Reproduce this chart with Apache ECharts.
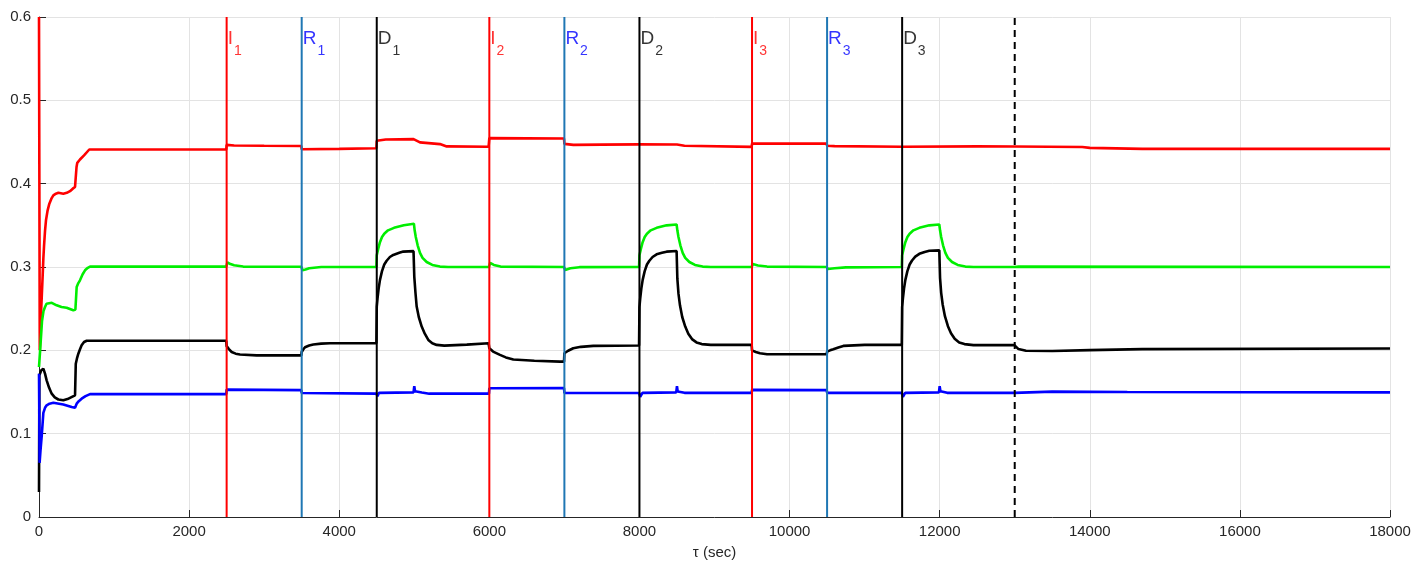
<!DOCTYPE html>
<html>
<head>
<meta charset="utf-8">
<script src="https://cdn.jsdelivr.net/npm/echarts@6/dist/echarts.min.js"></script>
<style>
html,body{margin:0;padding:0;background:#fff;}
#chart{width:1428px;height:563px;}
</style>
</head>
<body>
<div id="chart"></div>
<script>
// ---- data ----
const xTicks = [0,2000,4000,6000,8000,10000,12000,14000,16000,18000];
const yTicks = [0,0.1,0.2,0.3,0.4,0.5,0.6];

const redSeries = [
  [0,0.6],[10,0.2],[25,0.24],[37,0.265],[49,0.29],[58,0.31],[67,0.325],[80,0.343],[93,0.356],[115,0.368],[138,0.376],[165,0.382],[191,0.386],[225,0.388],[258,0.389],[324,0.388],[370,0.389],[413,0.391],[450,0.394],[480,0.396],[495,0.397],
  [500,0.42],[510,0.425],[546,0.429],[600,0.434],[670,0.441],[2495,0.441],
  [2500,0.4465],[2600,0.4458],[3000,0.4455],[3495,0.4452],
  [3500,0.4413],[4000,0.4418],[4495,0.4425],
  [4500,0.4514],[4620,0.453],[4990,0.4534],[5076,0.4495],[5342,0.4475],[5432,0.4447],[5990,0.4443],
  [6000,0.4546],[6995,0.4542],
  [7000,0.4477],[7120,0.4465],[7500,0.4468],[7995,0.4472],
  [8000,0.4478],[8500,0.447],[8600,0.4455],[9495,0.4441],
  [9500,0.448],[10495,0.448],
  [10500,0.4455],[10600,0.445],[11495,0.4443],
  [11500,0.4448],[12500,0.4448],[13000,0.4446],[13900,0.444],[14000,0.443],[14700,0.4418],[18000,0.4418]
];

const greenSeries = [
  [0,0.18],[15,0.2],[40,0.235],[60,0.247],[80,0.252],[100,0.256],[124,0.258],[170,0.257],[235,0.254],[300,0.252],[368,0.251],[457,0.248],[485,0.249],
  [502,0.276],[520,0.280],[546,0.284],[580,0.291],[613,0.296],[650,0.299],[680,0.3005],[2495,0.3005],
  [2510,0.3055],[2550,0.3035],[2600,0.302],[2720,0.3005],[3495,0.3003],
  [3510,0.296],[3550,0.297],[3600,0.2985],[3760,0.3],[4495,0.3],
  [4500,0.314],[4520,0.322],[4540,0.329],[4570,0.336],[4600,0.340],[4650,0.344],[4730,0.347],[4860,0.350],[4995,0.352],
  [5005,0.344],[5020,0.336],[5045,0.326],[5076,0.317],[5110,0.311],[5165,0.306],[5240,0.3025],[5342,0.3005],[5450,0.3],[5995,0.3],
  [6010,0.305],[6060,0.3025],[6150,0.3005],[6995,0.3],
  [7010,0.2965],[7080,0.2985],[7200,0.2998],[7995,0.3],
  [8000,0.314],[8020,0.322],[8040,0.329],[8070,0.336],[8100,0.340],[8150,0.344],[8229,0.347],[8362,0.350],[8495,0.351],
  [8505,0.344],[8520,0.336],[8545,0.326],[8576,0.317],[8610,0.311],[8665,0.306],[8740,0.3025],[8842,0.3005],[8950,0.3],[9495,0.3],
  [9510,0.3035],[9580,0.3018],[9700,0.3005],[10495,0.3],
  [10510,0.2975],[10600,0.2985],[10750,0.2995],[11495,0.3],
  [11500,0.314],[11520,0.322],[11540,0.329],[11570,0.336],[11600,0.340],[11650,0.344],[11729,0.347],[11862,0.350],[11995,0.351],
  [12005,0.344],[12020,0.336],[12045,0.326],[12076,0.317],[12110,0.311],[12165,0.306],[12240,0.3025],[12342,0.3005],[12450,0.3],[13000,0.3],
  [13050,0.3005],[18000,0.3]
];

const blackSeries = [
  [0,0.03],[5,0.17],[30,0.176],[58,0.178],[80,0.172],[102,0.164],[135,0.155],[169,0.148],[210,0.1435],[258,0.141],[324,0.140],[380,0.1415],[413,0.143],[480,0.146],
  [490,0.184],[505,0.19],[524,0.196],[545,0.201],[568,0.206],[600,0.21],[635,0.2115],[800,0.2115],[2495,0.2115],
  [2500,0.205],[2530,0.2015],[2567,0.198],[2620,0.196],[2678,0.195],[2900,0.194],[3495,0.194],
  [3500,0.198],[3520,0.201],[3544,0.2037],[3600,0.2058],[3655,0.207],[3760,0.208],[3877,0.2085],[4495,0.2085],
  [4500,0.2525],[4510,0.262],[4525,0.274],[4543,0.2845],[4570,0.295],[4600,0.303],[4632,0.3075],[4675,0.312],[4720,0.3145],[4800,0.317],[4854,0.3185],[4990,0.319],
  [5000,0.2885],[5015,0.270],[5032,0.2525],[5060,0.240],[5099,0.2285],[5140,0.220],[5187,0.2125],[5240,0.2085],[5298,0.2065],[5400,0.2057],[5700,0.2068],[5990,0.2085],
  [6000,0.2025],[6050,0.1985],[6142,0.1945],[6220,0.1915],[6320,0.189],[6600,0.1875],[6941,0.1865],[6995,0.1865],
  [7000,0.1965],[7050,0.1995],[7118,0.2025],[7220,0.2042],[7385,0.2053],[7995,0.2058],
  [8000,0.252],[8010,0.262],[8025,0.274],[8043,0.2845],[8070,0.295],[8100,0.303],[8132,0.3075],[8175,0.312],[8229,0.3152],[8300,0.317],[8362,0.3184],[8495,0.3192],
  [8505,0.286],[8520,0.268],[8540,0.254],[8570,0.240],[8610,0.2285],[8651,0.220],[8700,0.2135],[8760,0.2095],[8830,0.2075],[8950,0.2065],[9495,0.2065],
  [9500,0.2],[9550,0.198],[9606,0.1965],[9700,0.1953],[10495,0.1953],
  [10500,0.1985],[10540,0.2],[10583,0.2013],[10650,0.2035],[10716,0.2053],[11000,0.2065],[11495,0.2065],
  [11500,0.252],[11510,0.262],[11525,0.274],[11543,0.2845],[11570,0.295],[11600,0.303],[11632,0.3078],[11675,0.3125],[11729,0.3158],[11800,0.318],[11862,0.3195],[11995,0.32],
  [12005,0.287],[12020,0.269],[12040,0.255],[12070,0.241],[12110,0.229],[12151,0.2205],[12200,0.214],[12260,0.2095],[12330,0.2075],[12450,0.2063],[12995,0.2063],
  [13050,0.2015],[13150,0.1995],[13500,0.1992],[14000,0.2002],[14700,0.2015],[18000,0.2022]
];

const blueSeries = [
  [0,0.172],[8,0.065],[20,0.08],[36,0.097],[58,0.125],[80,0.131],[102,0.134],[140,0.136],[191,0.137],[324,0.135],[435,0.132],[480,0.131],
  [502,0.136],[530,0.139],[568,0.142],[620,0.145],[680,0.1475],[2495,0.1475],
  [2500,0.1528],[3495,0.1522],
  [3500,0.1488],[4495,0.148],
  [4510,0.145],[4530,0.149],[4990,0.1495],[5000,0.157],[5010,0.151],[5100,0.1495],[5200,0.148],[5995,0.148],
  [6000,0.1545],[6995,0.1548],
  [7000,0.149],[7100,0.1488],[7995,0.1488],
  [8010,0.144],[8040,0.149],[8490,0.1495],[8500,0.157],[8510,0.1505],[8600,0.149],[9495,0.149],
  [9500,0.1525],[10495,0.1522],
  [10500,0.149],[11495,0.149],
  [11510,0.144],[11540,0.149],[11990,0.1495],[12000,0.157],[12010,0.151],[12100,0.149],[12995,0.149],
  [13000,0.1508],[13500,0.1505],[14500,0.15],[18000,0.1495]
];

const eventTimes   = [2500,3500,4500,6000,7000,8000,9500,10500,11500];
const eventLetters = ['I','R','D','I','R','D','I','R','D'];
const eventSubs    = ['1','1','1','2','2','2','3','3','3'];
const dashedTime   = 13000;
const yMax = 0.6;
const labelY = 0.568;

// ---- styles ----
const lineColor = {I:'#ff0000', R:'#1f77b4', D:'#000000'};
const textColor = {I:'#ff0000', R:'#0000ff', D:'#000000'};
const FONT = "'Liberation Sans', Arial, Helvetica, sans-serif";

const series = [];
function curve(name, data, color){
  series.push({name, type:'line', data, showSymbol:false, symbol:'none',
    lineStyle:{color, width:2.6}, z:3, animation:false});
}
curve('red', redSeries, '#ff0000');
curve('green', greenSeries, '#00ee00');
curve('black', blackSeries, '#000000');
curve('blue', blueSeries, '#0000ff');

eventTimes.forEach((t,i)=>{
  const L = eventLetters[i];
  series.push({type:'line', data:[[t,0],[t,yMax]], showSymbol:false, symbol:'none',
    lineStyle:{color:lineColor[L], width:2}, z:4, animation:false, silent:true});
  series.push({type:'scatter', data:[[t,labelY]], symbolSize:0, z:5, animation:false, silent:true,
    label:{show:true, position:'right', distance:1,
      formatter:'{m|'+L+'}{s|'+eventSubs[i]+'}',
      rich:{
        m:{fontFamily:FONT, fontSize:19, color:textColor[L], verticalAlign:'top', lineHeight:28},
        s:{fontFamily:FONT, fontSize:14, color:textColor[L], verticalAlign:'bottom', lineHeight:28, padding:[8,0,0,1]}
      }}});
});
series.push({type:'line', data:[[dashedTime,0],[dashedTime,yMax]], showSymbol:false, symbol:'none',
  lineStyle:{color:'#000', width:2, type:[7,5]}, z:4, animation:false, silent:true});

const chart = echarts.init(document.getElementById('chart'));
chart.setOption({
  animation:false,
  backgroundColor:'#ffffff',
  grid:{left:39, right:38, top:17, bottom:46, containLabel:false, outerBoundsMode:'none'},
  xAxis:{type:'value', min:xTicks[0], max:xTicks[xTicks.length-1], interval:xTicks[1]-xTicks[0],
    name:'τ (sec)', nameLocation:'middle', nameGap:28,
    nameTextStyle:{fontFamily:FONT, fontSize:15, color:'#262626'},
    axisLine:{show:true, onZero:false, lineStyle:{color:'#262626', width:1}},
    axisTick:{show:true, inside:true, length:7, lineStyle:{color:'#262626'}},
    axisLabel:{fontFamily:FONT, fontSize:15, color:'#262626', margin:7, formatter:v=>String(v)},
    splitLine:{show:true, lineStyle:{color:'#e3e3e3', width:1}}},
  yAxis:{type:'value', min:yTicks[0], max:yTicks[yTicks.length-1], interval:0.1,
    axisLine:{show:true, onZero:false, lineStyle:{color:'#262626', width:1}},
    axisTick:{show:true, inside:true, length:7, lineStyle:{color:'#262626'}},
    axisLabel:{fontFamily:FONT, fontSize:15, color:'#262626', margin:8,
      formatter:v=> v===0?'0':v.toFixed(1)},
    splitLine:{show:true, lineStyle:{color:'#e3e3e3', width:1}}},
  series
});
</script>
</body>
</html>
